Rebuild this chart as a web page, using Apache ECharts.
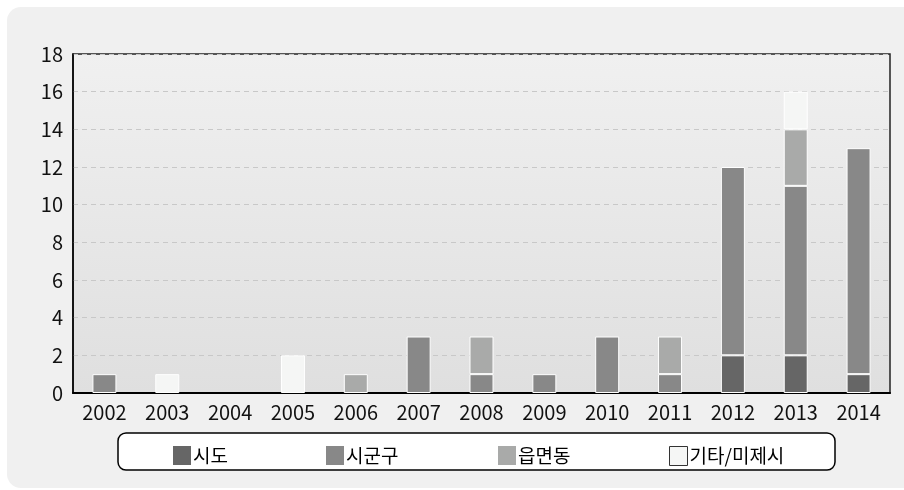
<!DOCTYPE html>
<html>
<head>
<meta charset="utf-8">
<script src="https://cdn.jsdelivr.net/npm/echarts@6/dist/echarts.min.js"></script>
<style>
  html, body { margin: 0; padding: 0; background: #fff; }
  #chart { width: 904px; height: 490px; }
</style>
</head>
<body>
<div id="chart"></div>
<script>
const years = ['2002', '2003', '2004', '2005', '2006', '2007', '2008', '2009', '2010', '2011', '2012', '2013', '2014']
const sido = [0, 0, 0, 0, 0, 0, 0, 0, 0, 0, 2, 2, 1]
const sigungu = [1, 0, 0, 0, 0, 3, 1, 1, 3, 1, 10, 9, 12]
const eupmyeondong = [0, 0, 0, 0, 1, 0, 2, 0, 0, 2, 0, 3, 0]
const etc = [0, 1, 0, 2, 0, 0, 0, 0, 0, 0, 0, 2, 0]
const seriesNames = ['시도', '시군구', '읍면동', '기타/미제시']
const seriesColors = ['#666666', '#888888', '#a9aaa9', '#f5f6f5']

const font = "'Noto Sans CJK KR', 'Noto Sans', sans-serif"
const chart = echarts.init(document.getElementById('chart'))

const toData = arr => arr.map(v => (v === 0 ? '-' : v))

const makeSeries = (name, values, color) => ({
  name,
  type: 'bar',
  stack: 'total',
  data: toData(values),
  barWidth: 24,
  itemStyle: { color, borderColor: '#ffffff', borderWidth: 1 },
  emphasis: { disabled: true }
})

const legendLefts = [168, 321, 493, 664]

const option = {
  animation: false,
  textStyle: { fontFamily: font },
  graphic: [
    {
      type: 'rect',
      z: -10,
      shape: { x: 7, y: 7, width: 920, height: 481, r: 14 },
      style: { fill: '#f0f0f0' }
    },
    {
      type: 'rect',
      z: -5,
      shape: { x: 118, y: 433, width: 717, height: 37, r: 8 },
      style: { fill: '#ffffff', stroke: '#000000', lineWidth: 1.5 }
    }
  ],
  legend: seriesNames.map((n, i) => ({
    data: [n],
    left: legendLefts[i],
    top: 441,
    icon: 'rect',
    itemWidth: 18,
    itemHeight: 19,
    itemGap: 4,
    selectedMode: false,
    textStyle: { fontFamily: font, fontSize: 19, color: '#000', padding: [0, 0, 0, -3] },
    itemStyle: i === 3 ? { borderColor: '#333', borderWidth: 1 } : { borderWidth: 0 }
  })),
  grid: {
    left: 73,
    right: 14,
    top: 54,
    bottom: 97,
    show: true,
    borderColor: '#222',
    borderWidth: 1.5,
    backgroundColor: new echarts.graphic.LinearGradient(0, 0, 0, 1, [
      { offset: 0, color: '#f0f0f0' },
      { offset: 1, color: '#dfdfdf' }
    ])
  },
  xAxis: {
    type: 'category',
    data: years,
    axisLine: { lineStyle: { color: '#000', width: 2 } },
    axisTick: { show: false },
    axisLabel: { color: '#111', fontSize: 20, margin: 9, fontFamily: font }
  },
  yAxis: {
    type: 'value',
    min: 0,
    max: 18,
    interval: 2,
    axisLine: { show: true, lineStyle: { color: '#000', width: 1.5 } },
    axisTick: { show: false },
    axisLabel: { color: '#111', fontSize: 20, margin: 10, fontFamily: font },
    splitLine: { lineStyle: { color: '#c8c8c8', type: [5, 4], width: 1 } }
  },
  series: [
    makeSeries(seriesNames[0], sido, seriesColors[0]),
    makeSeries(seriesNames[1], sigungu, seriesColors[1]),
    makeSeries(seriesNames[2], eupmyeondong, seriesColors[2]),
    makeSeries(seriesNames[3], etc, seriesColors[3])
  ]
}

chart.setOption(option)
</script>
</body>
</html>
